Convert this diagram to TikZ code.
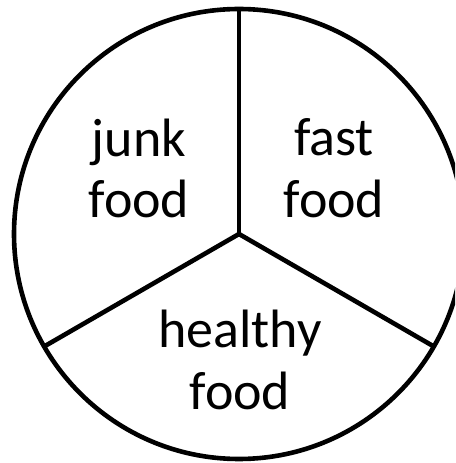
\documentclass[tikz,border=0pt]{standalone}
\usepackage{fontspec}
\setmainfont{Carlito}
\usetikzlibrary{calc}
\begin{document}
\begin{tikzpicture}[x=1pt,y=1pt,
  edge/.style={line width=4.6pt, line join=round},
  lbl/.style={anchor=base, inner sep=0pt, font=\fontsize{54}{62}\selectfont}]
\useasboundingbox (0,0) rectangle (455,463);
\clip (0,0) rectangle (455,463);
\coordinate (c) at (239,229);
\draw[edge] (c) circle (225);
\coordinate (top) at ($(c)+(90:225)$);
\coordinate (ll) at ($(c)+(210:225)$);
\coordinate (lr) at ($(c)+(-30:225)$);
\draw[edge] (c) -- (top);
\draw[edge] (c) -- (ll);
\draw[edge] (c) -- (lr);
\node[lbl] (j1) at (139,306) {junk};
\node[lbl] (j2) at (139,245) {food};
\node[lbl] (f1) at (334,307) {fast};
\node[lbl] (f2) at (334,245) {food};
\node[lbl] (h1) at (240,115) {healthy};
\node[lbl] (h2) at (240,53) {food};
\end{tikzpicture}
\end{document}
